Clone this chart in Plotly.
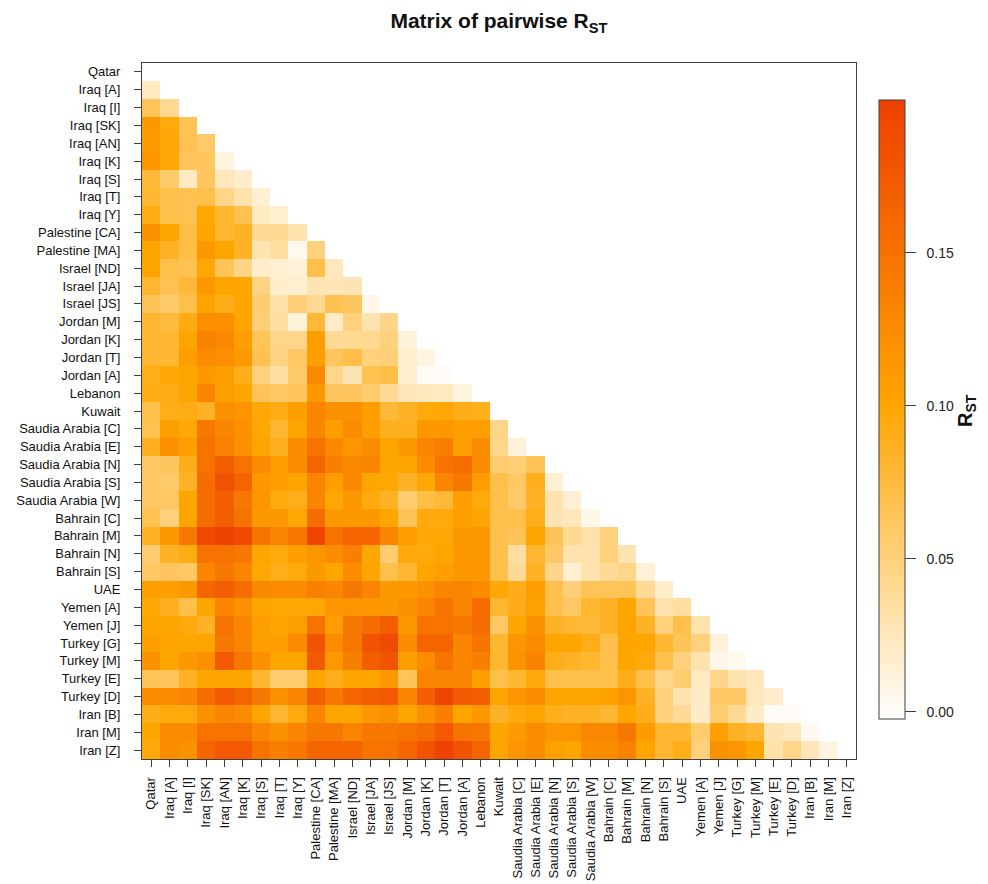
import plotly.graph_objects as go

labels = ["Qatar","Iraq [A]","Iraq [I]","Iraq [SK]","Iraq [AN]","Iraq [K]","Iraq [S]","Iraq [T]","Iraq [Y]",
          "Palestine [CA]","Palestine [MA]","Israel [ND]","Israel [JA]","Israel [JS]","Jordan [M]","Jordan [K]",
          "Jordan [T]","Jordan [A]","Lebanon","Kuwait","Saudia Arabia [C]","Saudia Arabia [E]","Saudia Arabia [N]",
          "Saudia Arabia [S]","Saudia Arabia [W]","Bahrain [C]","Bahrain [M]","Bahrain [N]","Bahrain [S]","UAE",
          "Yemen [A]","Yemen [J]","Turkey [G]","Turkey [M]","Turkey [E]","Turkey [D]","Iran [B]","Iran [M]","Iran [Z]"]

r00 = []
r01 = [.022]
r02 = [.065,.042]
r03 = [.112,.095,.066]
r04 = [.110,.098,.067,.058]
r05 = [.116,.098,.064,.062,.010]
r06 = [.078,.058,.022,.062,.025,.018]
r07 = [.08,.07,.068,.07,.045,.030,.015]
r08 = [.093,.07,.068,.098,.08,.068,.022,.016]
r09 = [.12,.10,.072,.10,.08,.085,.04,.042,.03]
r10 = [.10,.085,.072,.113,.10,.085,.028,.035,.005,.05]
r11 = [.10,.07,.068,.098,.065,.045,.018,.015,.013,.07,.024]
r12 = [.08,.068,.078,.112,.10,.10,.048,.018,.016,.028,.026,.028]
r13 = [.065,.058,.07,.102,.09,.10,.055,.032,.052,.042,.068,.062,.006]
r14 = [.08,.075,.093,.122,.122,.10,.052,.035,.012,.078,.02,.05,.03,.045]
r15 = [.08,.08,.10,.135,.13,.107,.065,.045,.045,.107,.04,.042,.042,.05,.012]
r16 = [.08,.08,.107,.125,.122,.112,.068,.048,.06,.107,.062,.072,.05,.052,.017,.01]
r17 = [.09,.098,.10,.113,.107,.09,.05,.035,.058,.128,.045,.028,.068,.072,.017,.002,.001]
r18 = [.092,.092,.10,.132,.107,.10,.065,.06,.062,.113,.062,.062,.055,.04,.026,.024,.022,.01]
r19 = [.07,.09,.092,.085,.12,.116,.098,.092,.107,.132,.12,.12,.107,.078,.085,.095,.098,.09,.088]
r20 = [.068,.107,.097,.145,.132,.12,.098,.08,.10,.132,.107,.125,.107,.088,.088,.113,.112,.107,.107,.045]
r21 = [.088,.12,.107,.15,.136,.12,.10,.088,.125,.15,.128,.116,.125,.10,.112,.132,.14,.107,.125,.045,.012]
r22 = [.06,.062,.09,.15,.17,.15,.125,.107,.125,.163,.138,.128,.132,.10,.10,.125,.15,.156,.125,.055,.052,.065]
r23 = [.06,.058,.085,.156,.18,.163,.113,.107,.10,.132,.107,.128,.10,.098,.085,.098,.132,.145,.107,.07,.06,.088,.015]
r24 = [.06,.06,.10,.156,.17,.145,.116,.095,.09,.132,.098,.112,.095,.085,.055,.072,.078,.107,.095,.07,.058,.085,.03,.015]
r25 = [.068,.05,.10,.156,.17,.15,.113,.112,.098,.156,.112,.112,.112,.10,.065,.095,.095,.107,.10,.07,.07,.09,.028,.025,.007]
r26 = [.085,.113,.145,.19,.198,.19,.15,.132,.145,.195,.15,.163,.163,.132,.107,.098,.098,.112,.113,.07,.065,.10,.065,.042,.032,.05]
r27 = [.055,.085,.092,.15,.15,.145,.10,.095,.107,.116,.125,.138,.098,.055,.095,.095,.10,.113,.112,.07,.035,.08,.06,.03,.03,.05,.028]
r28 = [.06,.062,.06,.132,.145,.132,.098,.09,.095,.112,.10,.125,.10,.07,.08,.10,.107,.113,.113,.07,.04,.085,.045,.015,.03,.04,.045,.014]
r29 = [.107,.107,.112,.163,.17,.156,.128,.125,.125,.138,.132,.145,.132,.112,.112,.12,.132,.132,.125,.098,.09,.107,.07,.052,.065,.065,.065,.04,.018]
r30 = [.098,.088,.07,.10,.132,.12,.10,.098,.098,.098,.116,.116,.113,.112,.12,.132,.15,.132,.156,.08,.09,.105,.07,.06,.08,.085,.10,.065,.03,.035]
r31 = [.10,.10,.095,.085,.15,.132,.107,.10,.107,.15,.107,.145,.156,.17,.112,.15,.15,.145,.156,.06,.10,.12,.085,.08,.078,.085,.10,.085,.05,.07,.03]
r32 = [.107,.10,.10,.10,.145,.132,.107,.107,.125,.18,.125,.145,.18,.19,.125,.163,.163,.132,.15,.08,.115,.125,.10,.10,.09,.07,.10,.10,.08,.065,.05,.012]
r33 = [.12,.10,.113,.12,.175,.145,.12,.10,.10,.175,.113,.138,.17,.18,.107,.125,.15,.132,.138,.08,.118,.135,.09,.085,.08,.07,.10,.095,.07,.05,.03,.006,.004]
r34 = [.065,.062,.085,.10,.10,.10,.08,.055,.055,.10,.09,.10,.10,.113,.065,.132,.132,.132,.107,.07,.08,.095,.07,.07,.07,.07,.09,.07,.045,.055,.022,.045,.03,.025]
r35 = [.125,.125,.132,.156,.175,.163,.145,.12,.132,.17,.145,.163,.17,.175,.132,.17,.195,.175,.17,.10,.115,.125,.10,.10,.10,.105,.115,.085,.05,.03,.02,.06,.06,.025,.018]
r36 = [.09,.095,.095,.12,.132,.125,.10,.08,.095,.132,.10,.10,.113,.12,.10,.12,.138,.10,.113,.085,.095,.10,.09,.085,.085,.08,.10,.09,.05,.04,.02,.055,.04,.02,.001,.001]
r37 = [.10,.125,.125,.15,.15,.15,.132,.12,.132,.145,.145,.132,.145,.145,.15,.156,.175,.15,.145,.10,.11,.125,.115,.115,.13,.13,.145,.11,.08,.08,.055,.105,.085,.08,.028,.024,.004]
r38 = [.095,.125,.12,.163,.175,.175,.15,.138,.145,.163,.163,.163,.15,.15,.163,.18,.198,.18,.163,.10,.115,.125,.105,.10,.125,.125,.135,.10,.08,.09,.05,.12,.115,.10,.032,.045,.026,.01]

rows = [r00,r01,r02,r03,r04,r05,r06,r07,r08,r09,r10,r11,r12,r13,r14,r15,r16,r17,r18,r19,
        r20,r21,r22,r23,r24,r25,r26,r27,r28,r29,r30,r31,r32,r33,r34,r35,r36,r37,r38]
z = [r + [None] * (len(labels) - len(r)) for r in rows]

zmin, zmax = -0.0023, 0.2
mid = (0.10 - zmin) / (zmax - zmin)
# the page places the figure 8 px in from its top left corner
OFF = 8
W, H = 988 - OFF, 884 - OFF
L, R, T, B = 142 - OFF, 856 - OFF, 63 - OFF, 759 - OFF
INK = "#404040"

fig = go.Figure(go.Heatmap(
    z=z, x=labels, y=labels, zmin=zmin, zmax=zmax, hoverongaps=False,
    colorscale=[[0, "#FFFFFF"], [mid, "#FFA500"], [1, "#EE4000"]],
    colorbar=dict(
        x=(879 - OFF) / W, xanchor="left", xpad=0, y=1 - (100 - OFF) / H, yanchor="top", ypad=0,
        thicknessmode="pixels", thickness=26, lenmode="pixels", len=619,
        outlinecolor=INK, outlinewidth=1, tickvals=[0, .05, .10, .15],
        ticktext=["\u00a0\u00a00.00", "\u00a0\u00a00.05", "\u00a0\u00a00.10", "\u00a0\u00a00.15"],
        ticks="outside", ticklen=11,
        tickcolor=INK, tickfont=dict(family="Liberation Sans", size=14, color="#222222"),
    ),
))
fig.update_layout(
    width=W, height=H, margin=dict(l=0, r=0, t=0, b=0), paper_bgcolor="white", plot_bgcolor="white",
    font=dict(family="Liberation Sans", color="#111111"),
    title=dict(text="<b>Matrix of pairwise R<sub>ST</sub></b>", x=(499 - OFF) / W, xanchor="center",
               y=1 - (21 - OFF) / H, yanchor="middle", font=dict(size=21, color="#111111")),
    xaxis=dict(domain=[L / W, R / W], tickangle=-90, ticks="outside", ticklen=7, tickcolor=INK,
               showline=True, linecolor=INK, mirror=True, showgrid=False, zeroline=False,
               tickfont=dict(size=13), tickmode="array", tickvals=labels, ticktext=labels,
               ticklabelstandoff=5),
    yaxis=dict(domain=[1 - B / H, 1 - T / H], autorange="reversed", ticks="outside", ticklen=7, tickcolor=INK,
               showline=True, linecolor=INK, mirror=True, showgrid=False, zeroline=False,
               tickfont=dict(size=13), tickmode="array", tickvals=labels, ticktext=labels,
               ticklabelstandoff=11),
    annotations=[dict(text="<b>R<sub>ST</sub></b>", xref="paper", yref="paper", x=(966 - OFF) / W, y=1 - (411 - OFF) / H,
                      xanchor="center", yanchor="middle",
                      showarrow=False, textangle=-90, font=dict(size=20, color="#111111"))],
)
fig.write_html("out.html")
